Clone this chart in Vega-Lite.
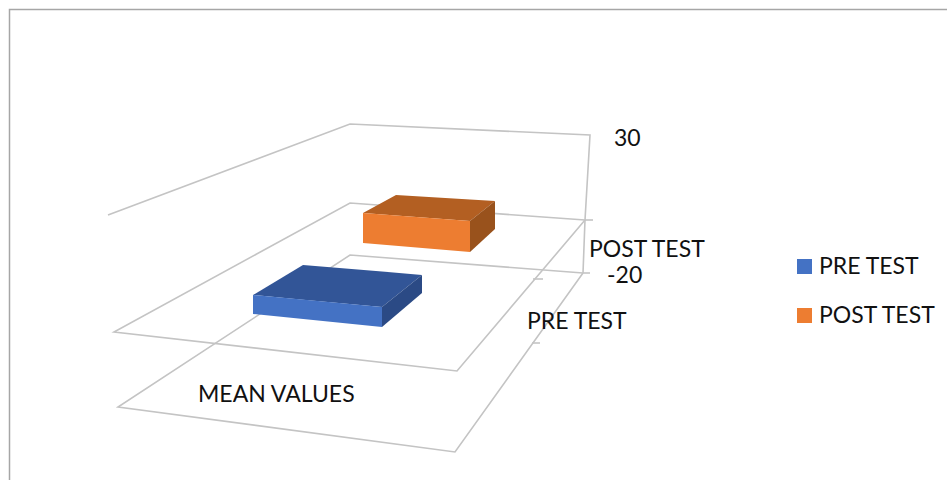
{
  "$schema": "https://vega.github.io/schema/vega-lite/v6.json",
  "width": 947,
  "height": 480,
  "padding": 0,
  "autosize": {"type": "none"},
  "background": "white",
  "view": {"stroke": null},
  "config": {"text": {"font": "Lato"}},
  "datasets": {
    "frame": [
      {"line": "frame", "i": 0, "sx": 9.5, "sy": 480},
      {"line": "frame", "i": 1, "sx": 9.5, "sy": 9.5},
      {"line": "frame", "i": 2, "sx": 947, "sy": 9.5}
    ],
    "grid": [
      {"line": "back wall", "i": 0, "sx": 108, "sy": 215},
      {"line": "back wall", "i": 1, "sx": 350, "sy": 124},
      {"line": "back wall", "i": 2, "sx": 590, "sy": 135},
      {"line": "back wall", "i": 3, "sx": 585, "sy": 220},
      {"line": "back wall", "i": 4, "sx": 583, "sy": 273},
      {"line": "upper plane", "i": 0, "sx": 585, "sy": 220},
      {"line": "upper plane", "i": 1, "sx": 350, "sy": 203},
      {"line": "upper plane", "i": 2, "sx": 114, "sy": 332},
      {"line": "upper plane", "i": 3, "sx": 457, "sy": 371},
      {"line": "upper plane", "i": 4, "sx": 585, "sy": 220},
      {"line": "lower plane", "i": 0, "sx": 583, "sy": 273},
      {"line": "lower plane", "i": 1, "sx": 350, "sy": 255},
      {"line": "lower plane", "i": 2, "sx": 118, "sy": 407},
      {"line": "lower plane", "i": 3, "sx": 455, "sy": 452},
      {"line": "lower plane", "i": 4, "sx": 583, "sy": 273},
      {"line": "tick a", "i": 0, "sx": 585, "sy": 220},
      {"line": "tick a", "i": 1, "sx": 593, "sy": 220},
      {"line": "tick b", "i": 0, "sx": 583, "sy": 273},
      {"line": "tick b", "i": 1, "sx": 590, "sy": 273},
      {"line": "tick c", "i": 0, "sx": 533, "sy": 279},
      {"line": "tick c", "i": 1, "sx": 543, "sy": 279},
      {"line": "tick d", "i": 0, "sx": 532, "sy": 343},
      {"line": "tick d", "i": 1, "sx": 540, "sy": 343}
    ],
    "faces": [
      {"series": "PRE TEST", "face": "front", "sx": 253, "upper": 295, "lower": 314},
      {"series": "PRE TEST", "face": "front", "sx": 382, "upper": 307, "lower": 327},
      {"series": "PRE TEST", "face": "top", "sx": 253, "upper": 295, "lower": 295},
      {"series": "PRE TEST", "face": "top", "sx": 303, "upper": 265, "lower": 299.7},
      {"series": "PRE TEST", "face": "top", "sx": 382, "upper": 271.6, "lower": 307},
      {"series": "PRE TEST", "face": "top", "sx": 422, "upper": 275, "lower": 275},
      {"series": "PRE TEST", "face": "side", "sx": 382, "upper": 307, "lower": 327},
      {"series": "PRE TEST", "face": "side", "sx": 422, "upper": 275, "lower": 293},
      {"series": "POST TEST", "face": "front", "sx": 363, "upper": 213, "lower": 243},
      {"series": "POST TEST", "face": "front", "sx": 470, "upper": 221, "lower": 252},
      {"series": "POST TEST", "face": "top", "sx": 363, "upper": 213, "lower": 213},
      {"series": "POST TEST", "face": "top", "sx": 396, "upper": 195, "lower": 215.5},
      {"series": "POST TEST", "face": "top", "sx": 470, "upper": 199.5, "lower": 221},
      {"series": "POST TEST", "face": "top", "sx": 495, "upper": 201, "lower": 201},
      {"series": "POST TEST", "face": "side", "sx": 470, "upper": 221, "lower": 252},
      {"series": "POST TEST", "face": "side", "sx": 495, "upper": 201, "lower": 229}
    ],
    "labels": [
      {"label": "30", "sx": 614, "sy": 139},
      {"label": "-20", "sx": 607, "sy": 276},
      {"label": "POST TEST", "sx": 589, "sy": 249.5},
      {"label": "PRE TEST", "sx": 527, "sy": 321.5},
      {"label": "MEAN VALUES", "sx": 198, "sy": 394.5}
    ]
  },
  "encoding": {
    "x": {"field": "sx", "type": "quantitative", "axis": null, "scale": {"domain": [0, 947], "nice": false, "zero": false}},
    "y": {"field": "sy", "type": "quantitative", "axis": null, "scale": {"domain": [480, 0], "nice": false, "zero": false}}
  },
  "layer": [
    {
      "data": {"name": "frame"},
      "mark": {"type": "line", "stroke": "#a6a6a6", "strokeWidth": 1.5},
      "encoding": {"order": {"field": "i", "type": "quantitative"}, "detail": {"field": "line"}}
    },
    {
      "data": {"name": "grid"},
      "mark": {"type": "line", "stroke": "#c4c4c4", "strokeWidth": 1.6},
      "encoding": {"order": {"field": "i", "type": "quantitative"}, "detail": {"field": "line"}}
    },
    {
      "data": {"name": "faces"},
      "transform": [{"filter": "datum.face === 'top'"}],
      "mark": {"type": "area"},
      "encoding": {
        "y": {"field": "upper", "type": "quantitative", "stack": null},
        "y2": {"field": "lower"},
        "color": {"field": "series", "type": "nominal", "legend": null, "scale": {"domain": ["PRE TEST", "POST TEST"], "range": ["#325597", "#b35f22"]}}
      }
    },
    {
      "data": {"name": "faces"},
      "transform": [{"filter": "datum.face === 'side'"}],
      "mark": {"type": "area"},
      "encoding": {
        "y": {"field": "upper", "type": "quantitative", "stack": null},
        "y2": {"field": "lower"},
        "color": {"field": "series", "type": "nominal", "legend": null, "scale": {"domain": ["PRE TEST", "POST TEST"], "range": ["#2b4a85", "#99521c"]}}
      }
    },
    {
      "data": {"name": "faces"},
      "transform": [{"filter": "datum.face === 'front'"}],
      "mark": {"type": "area"},
      "encoding": {
        "y": {"field": "upper", "type": "quantitative", "stack": null},
        "y2": {"field": "lower"},
        "color": {
          "field": "series",
          "type": "nominal",
          "scale": {"domain": ["PRE TEST", "POST TEST"], "range": ["#4472c4", "#ed7d31"]},
          "legend": {
            "title": null,
            "orient": "none",
            "legendX": 793,
            "legendY": 255,
            "symbolType": "square",
            "symbolSize": 225,
            "symbolStrokeWidth": 0,
            "labelFont": "Lato",
            "labelFontSize": 23,
            "labelColor": "#111111",
            "labelOffset": 3,
            "rowPadding": 25
          }
        }
      }
    },
    {
      "data": {"name": "labels"},
      "mark": {"type": "text", "align": "left", "baseline": "middle", "fontSize": 23, "fill": "#111111"},
      "encoding": {"text": {"field": "label"}}
    }
  ],
  "resolve": {"scale": {"color": "independent"}}
}
